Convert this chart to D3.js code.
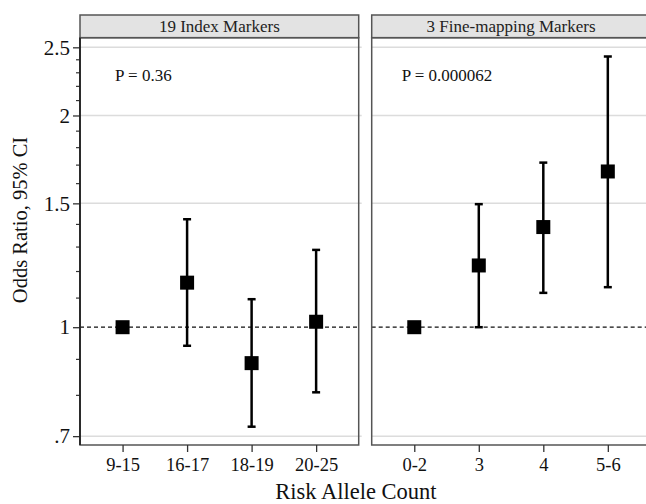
<!DOCTYPE html>
<html>
<head>
<meta charset="utf-8">
<script src="https://cdn.jsdelivr.net/npm/d3@7"></script>
<style>
  body { margin: 0; background: #fff; }
  svg text { font-family: "Liberation Serif", "Times New Roman", "DejaVu Serif", serif; }
</style>
</head>
<body>
<div class="canvas"></div>
<script>
// data
const panelTitles = ['19 Index Markers', '3 Fine-mapping Markers'];
const pLabels = ['P = 0.36', 'P = 0.000062'];

const indexGroups = ['9-15', '16-17', '18-19', '20-25'];
const indexOR = [1, 1.157, 0.889, 1.018];
const indexLo = [null, 0.941, 0.722, 0.808];
const indexHi = [null, 1.424, 1.096, 1.288];

const fineGroups = ['0-2', '3', '4', '5-6'];
const fineOR = [1, 1.224, 1.388, 1.665];
const fineLo = [null, 1.0, 1.119, 1.14];
const fineHi = [null, 1.496, 1.714, 2.426];

const yTicks = [0.7, 1, 1.5, 2, 2.5];
const yTickLabels = ['.7', '1', '1.5', '2', '2.5'];
const yMinor = [0.8, 0.9, 1.1, 1.2, 1.3, 1.4, 1.6, 1.7, 1.8, 1.9, 2.1, 2.2, 2.3, 2.4];

const dims = { width: 646, height: 504 };
const plot = { left: 80, top: 15, headH: 22.7, bottom: 445, panelW: 278.7, gap: 13 };

const svg = d3.select('.canvas')
    .append('svg')
    .attr('width', dims.width)
    .attr('height', dims.height);

const y = d3.scaleLog()
    .domain([0.68, 2.58])
    .range([plot.bottom, plot.top + plot.headH]);

const panels = [
    { title: panelTitles[0], p: pLabels[0], groups: indexGroups, or: indexOR, lo: indexLo, hi: indexHi },
    { title: panelTitles[1], p: pLabels[1], groups: fineGroups, or: fineOR, lo: fineLo, hi: fineHi }
];

panels.forEach((pd, i) => {
    const x0 = plot.left + i * (plot.panelW + plot.gap);
    const x = d3.scalePoint()
        .domain(pd.groups)
        .range([x0, x0 + plot.panelW])
        .padding(0.66);

    const g = svg.append('g');
    const plotTop = plot.top + plot.headH;

    // gridlines
    g.selectAll('line.grid')
        .data(yTicks.filter(d => d !== 1))
        .enter().append('line')
        .attr('x1', x0).attr('x2', x0 + plot.panelW + 3)
        .attr('y1', d => y(d)).attr('y2', d => y(d))
        .attr('stroke', '#dcdcdc')
        .attr('stroke-width', 1.5);

    // reference line at OR = 1
    g.append('line')
        .attr('x1', x0).attr('x2', x0 + plot.panelW)
        .attr('y1', y(1)).attr('y2', y(1))
        .attr('stroke', '#111')
        .attr('stroke-width', 1.3)
        .attr('stroke-dasharray', '4,3');

    // header strip
    g.append('rect')
        .attr('x', x0).attr('y', plot.top)
        .attr('width', plot.panelW).attr('height', plot.headH)
        .attr('fill', '#e3e3e3')
        .attr('stroke', '#555')
        .attr('stroke-width', 1.5);

    g.append('text')
        .attr('x', x0 + plot.panelW / 2)
        .attr('y', plot.top + plot.headH / 2 + 6)
        .attr('text-anchor', 'middle')
        .attr('font-size', 17)
        .attr('fill', '#222')
        .text(pd.title);

    // panel frame
    g.append('rect')
        .attr('x', x0).attr('y', plotTop)
        .attr('width', plot.panelW).attr('height', plot.bottom - plotTop)
        .attr('fill', 'none')
        .attr('stroke', '#555')
        .attr('stroke-width', 1.5);

    g.append('text')
        .attr('x', x0 + (i === 0 ? 35 : 30))
        .attr('y', 81)
        .attr('font-size', 17)
        .attr('fill', '#111')
        .text(pd.p);

    // x axis
    const xAxis = g.append('g')
        .attr('transform', `translate(0, ${plot.bottom})`)
        .call(d3.axisBottom(x).tickSize(7).tickPadding(6));
    xAxis.attr('font-family', null);
    xAxis.select('.domain').remove();
    xAxis.selectAll('line').attr('stroke', '#333').attr('stroke-width', 1.3);
    xAxis.selectAll('text')
        .attr('font-size', 18.5)
        .attr('fill', '#111');

    // error bars
    const data = pd.groups.map((k, j) => ({ k, or: pd.or[j], lo: pd.lo[j], hi: pd.hi[j] }));
    const ci = data.filter(d => d.lo !== null);

    g.selectAll('line.ci')
        .data(ci).enter().append('line')
        .attr('x1', d => x(d.k)).attr('x2', d => x(d.k))
        .attr('y1', d => y(d.lo)).attr('y2', d => y(d.hi))
        .attr('stroke', '#000').attr('stroke-width', 2.5);

    ['lo', 'hi'].forEach(end => {
        g.selectAll('line.cap-' + end)
            .data(ci).enter().append('line')
            .attr('x1', d => x(d.k) - 4).attr('x2', d => x(d.k) + 4)
            .attr('y1', d => y(d[end])).attr('y2', d => y(d[end]))
            .attr('stroke', '#000').attr('stroke-width', 2.5);
    });

    g.selectAll('rect.pt')
        .data(data).enter().append('rect')
        .attr('x', d => x(d.k) - 7).attr('y', d => y(d.or) - 7)
        .attr('width', 14).attr('height', 14)
        .attr('fill', '#000');
});

// y axis on the left panel
const yAxis = svg.append('g')
    .attr('transform', `translate(${plot.left}, 0)`)
    .call(d3.axisLeft(y).tickValues(yTicks).tickFormat((d, i) => yTickLabels[i]).tickSize(7).tickPadding(3));
yAxis.attr('font-family', null);
yAxis.select('.domain').remove();
yAxis.selectAll('line').attr('stroke', '#333').attr('stroke-width', 1.3);
yAxis.selectAll('text')
    .attr('font-size', 21)
    .attr('fill', '#111');

svg.append('g').selectAll('line')
    .data(yMinor).enter().append('line')
    .attr('x1', plot.left - 4).attr('x2', plot.left)
    .attr('y1', d => y(d)).attr('y2', d => y(d))
    .attr('stroke', '#333').attr('stroke-width', 1.2);

svg.append('line')
    .attr('x1', plot.left).attr('x2', plot.left)
    .attr('y1', plot.top + plot.headH).attr('y2', plot.bottom)
    .attr('stroke', '#222').attr('stroke-width', 1.8);

// axis titles
svg.append('text')
    .attr('transform', `translate(27, 220) rotate(-90)`)
    .attr('text-anchor', 'middle')
    .attr('font-size', 20.5)
    .attr('fill', '#111')
    .text('Odds Ratio, 95% CI');

svg.append('text')
    .attr('x', 356)
    .attr('y', 499)
    .attr('text-anchor', 'middle')
    .attr('font-size', 22.5)
    .attr('fill', '#111')
    .text('Risk Allele Count');
</script>
</body>
</html>
